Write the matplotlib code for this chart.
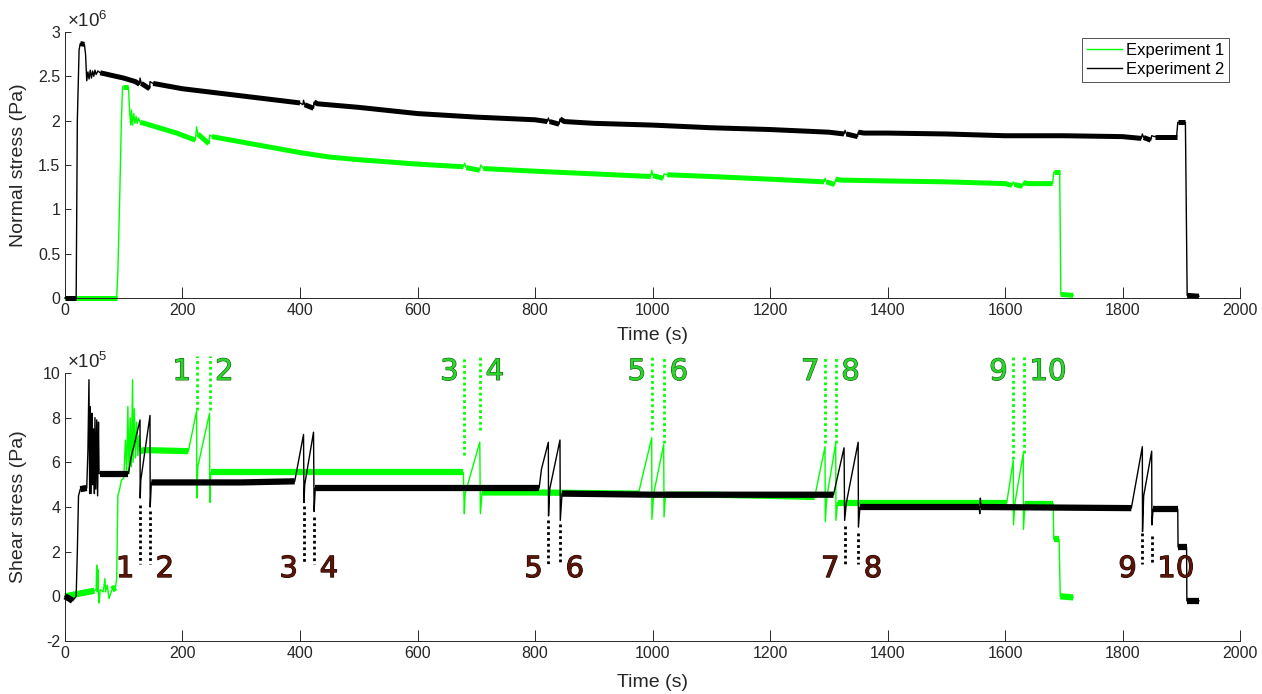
import matplotlib
matplotlib.use('Agg')
import matplotlib.pyplot as plt
import matplotlib.patheffects as pe
import numpy as np

plt.rcParams['font.family'] = 'Liberation Sans'
plt.rcParams['mathtext.fontset'] = 'custom'
plt.rcParams['mathtext.rm'] = 'Liberation Sans'
plt.rcParams['mathtext.default'] = 'regular'

# normal stress, units of 1e6 Pa
t_norm1 = [0, 88, 90, 93, 96, 98, 108, 110, 112, 113, 115, 117, 119, 121, 123, 125, 128, 135, 160, 190,
           222, 224, 226, 245, 246.5, 250, 300, 350, 400, 450, 500, 600, 678, 680, 683, 706, 707.5, 712,
           800, 900, 997, 998.6, 1001, 1018, 1019.6, 1025, 1100, 1200, 1292, 1293.6, 1296, 1310, 1311.8,
           1320, 1400, 1500, 1600, 1612, 1614, 1616, 1630, 1631, 1640, 1681, 1683, 1693, 1695, 1716]
norm1 = [0, 0, 0.3, 1.1, 2.0, 2.38, 2.38, 2.1, 1.95, 2.12, 1.95, 2.08, 1.97, 2.05, 1.97, 2.03, 1.98, 1.97, 1.92, 1.86,
         1.78, 1.93, 1.85, 1.74, 1.84, 1.82, 1.76, 1.70, 1.64, 1.59, 1.56, 1.51, 1.48, 1.52, 1.47, 1.44, 1.50, 1.46,
         1.43, 1.40, 1.37, 1.44, 1.38, 1.35, 1.40, 1.39, 1.37, 1.34, 1.31, 1.35, 1.31, 1.28, 1.34,
         1.33, 1.32, 1.31, 1.29, 1.27, 1.31, 1.28, 1.26, 1.30, 1.29, 1.29, 1.42, 1.42, 0.04, 0.03]

t_norm2 = [0, 19, 21, 24, 26, 33, 35, 37, 39, 41, 43, 45, 47, 49, 51, 53, 56, 60, 80, 100, 120, 127, 127.7, 130,
           144, 144.7, 150, 200, 250, 300, 350, 400, 405, 406, 408, 423, 424, 430, 500, 600, 700, 800, 821,
           822.7, 825, 841, 842.5, 850, 900, 1000, 1100, 1200, 1300, 1326, 1327.7, 1330, 1349, 1350, 1360,
           1400, 1500, 1600, 1700, 1800, 1832, 1833.7, 1836, 1848, 1849.6, 1855, 1892, 1894, 1907, 1910, 1930]
norm2 = [0, 0, 2.0, 2.8, 2.87, 2.86, 2.75, 2.45, 2.55, 2.47, 2.57, 2.48, 2.56, 2.50, 2.57, 2.52, 2.56, 2.54, 2.51,
         2.48, 2.44, 2.41, 2.48, 2.42, 2.36, 2.44, 2.42, 2.36, 2.32, 2.28, 2.24, 2.20, 2.18, 2.23, 2.18, 2.14,
         2.21, 2.19, 2.15, 2.08, 2.04, 2.01, 1.99, 2.03, 1.99, 1.96, 2.02, 1.99, 1.97, 1.95, 1.92, 1.90, 1.87,
         1.85, 1.89, 1.85, 1.82, 1.87, 1.86, 1.86, 1.85, 1.83, 1.83, 1.82, 1.80, 1.85, 1.81, 1.78, 1.83, 1.82,
         1.82, 1.98, 1.98, 0.03, 0.02]

# shear stress, units of 1e5 Pa
t_shear1 = [0, 20, 30, 40, 50, 53, 54, 55, 56, 57, 58, 60, 65, 68, 69, 72, 75, 80, 86, 88, 90, 93, 96, 100, 103,
            105, 107, 109, 111, 113, 115, 116, 118, 120, 122, 124, 126, 128, 135, 210, 224, 224.5, 226, 246,
            246.5, 248, 400, 500, 678, 679.7, 681, 706, 707, 710, 800, 976, 998.6, 999, 1002, 1019, 1019.6,
            1022, 1100, 1200, 1276, 1293.6, 1294, 1297, 1311.8, 1312.2, 1315, 1400, 1500, 1603, 1614, 1614.4,
            1617, 1631, 1631.4, 1634, 1682, 1683, 1692, 1694, 1716]
shear1 = [0, 0.1, 0.15, 0.2, 0.25, 0.3, 1.4, 0.2, 1.2, 0.1, -0.3, 0.3, 0.2, 0.8, 0.2, 0.5, -0.1, 0.3, 0.4, 0.8,
          4.5, 4.8, 5.2, 5.3, 7.0, 5.4, 8.5, 5.5, 8.0, 5.8, 9.7, 6.0, 8.4, 6.2, 7.8, 6.3, 7.2, 6.5, 6.55, 6.5,
          8.3, 4.4, 5.8, 8.2, 4.2, 5.55, 5.55, 5.55, 5.55, 3.7, 4.6, 6.9, 3.7, 4.65, 4.65, 4.6, 7.1, 3.45, 4.6,
          6.8, 3.55, 4.55, 4.55, 4.5, 4.45, 6.7, 3.35, 4.5, 6.85, 3.4, 4.2, 4.2, 4.2, 4.2, 6.1, 3.2, 4.2, 6.4,
          3.0, 4.15, 4.15, 2.55, 2.55, 0.0, -0.05]

t_shear2 = [0, 7, 13, 19, 21, 23, 26, 37, 39, 40.8, 42, 43, 44.5, 46, 47, 48.5, 50, 51, 52.5, 54, 55.5,
            57, 58, 60, 108, 113, 118, 127.7, 128, 129, 144.7, 145, 147, 200, 300, 391, 406, 406.8, 408, 423,
            424, 426, 600, 807, 811, 822.7, 823, 825, 842.5, 843, 846, 1000, 1200, 1308, 1326, 1327, 1330,
            1350, 1350.5, 1353, 1556, 1557, 1558, 1559, 1815, 1833.7, 1834, 1836, 1849.6, 1850, 1852, 1894,
            1894.5, 1909, 1909.5, 1930]
shear2 = [0, -0.1, -0.2, 0, 2.0, 4.5, 4.8, 4.85, 6.5, 9.7, 4.6, 8.5, 4.6, 8.2, 5.0, 7.5, 4.6, 8.0,
          4.8, 7.9, 4.5, 7.8, 5.5, 5.5, 5.5, 6.3, 6.8, 7.9, 4.4, 5.2, 8.1, 4.0, 5.1, 5.1, 5.1, 5.15, 7.25, 4.2,
          5.0, 7.35, 3.8, 4.85, 4.85, 4.85, 5.7, 6.9, 3.6, 4.8, 7.0, 3.4, 4.6, 4.55, 4.55, 4.55, 6.65, 3.4,
          4.2, 6.9, 3.1, 4.0, 4.0, 3.7, 4.4, 4.0, 3.95, 6.7, 2.9, 4.5, 6.5, 3.2, 3.9, 3.9, 2.2, 2.2, -0.2, -0.2]

# slip events
event_labels = ['1', '2', '3', '4', '5', '6', '7', '8', '9', '10']
events1 = [224, 246, 679.7, 706.5, 998.6, 1019.6, 1293.6, 1311.8, 1614, 1632]
events1_low = [8.36, 8.36, 6.35, 7.45, 7.45, 6.87, 6.87, 6.87, 6.13, 6.4]
events2 = [127.7, 144.7, 406, 424, 822.7, 842.5, 1327.7, 1350, 1833.7, 1849.6]
events2_high = [4.11, 3.82, 4.04, 3.56, 3.44, 3.22, 3.14, 2.85, 2.85, 2.7]

green = '#00ff00'
dark = '#262626'


def draw(ax, t, v, color, band_lw, label=None, z=2):
    t = np.asarray(t, dtype=float)
    v = np.asarray(v, dtype=float)
    line, = ax.plot(t, v, color=color, lw=1.0, label=label, zorder=z, clip_on=False)
    dt = np.diff(t)
    flat = (dt >= 6) & (np.abs(np.diff(v)) / dt < 0.02)
    i = 0
    while i < len(flat):
        if flat[i]:
            j = i
            while j < len(flat) and flat[j]:
                j += 1
            ax.plot(t[i:j + 1], v[i:j + 1], color=color, lw=band_lw, solid_capstyle='butt',
                    zorder=z, clip_on=False)
            i = j
        else:
            i += 1
    return line


def style(ax, ylim, yticks, ylabel, power, xlab_y):
    ax.set_xlim(0, 2000)
    ax.set_ylim(*ylim)
    ax.set_xticks(range(0, 2001, 200))
    ax.set_yticks(yticks)
    ax.set_yticklabels(['%g' % y for y in yticks])
    for s in ['top', 'right']:
        ax.spines[s].set_visible(False)
    for s in ['left', 'bottom']:
        ax.spines[s].set_color(dark)
        ax.spines[s].set_linewidth(0.7)
    ax.tick_params(axis='both', direction='in', colors=dark, labelsize=11.5, width=0.7)
    ax.tick_params(axis='x', length=8)
    ax.tick_params(axis='y', length=4)
    ax.set_xlabel('Time (s)', fontsize=14, color=dark)
    ax.set_ylabel(ylabel, fontsize=14, color=dark)
    ax.xaxis.set_label_coords(0.5, xlab_y)
    ax.yaxis.set_label_coords(-0.032, 0.5)
    ax.text(0.002, 1.005, '\u00d710$^{%d}$' % power, transform=ax.transAxes, fontsize=13.5,
            color=dark, ha='left', va='bottom')


fig = plt.figure(figsize=(12.62, 6.94), dpi=100)
ax1 = fig.add_axes([0.0515, 0.5706, 0.9311, 0.3833])
ax2 = fig.add_axes([0.0515, 0.0764, 0.9311, 0.3861])

l1 = draw(ax1, t_norm1, norm1, green, 3.6, 'Experiment 1')
l2 = draw(ax1, t_norm2, norm2, 'black', 3.6, 'Experiment 2', z=3)
style(ax1, (0, 3), [0, 0.5, 1, 1.5, 2, 2.5, 3], 'Normal stress (Pa)', 6, -0.11)
leg = ax1.legend(handles=[l1, l2], loc='upper right', bbox_to_anchor=(0.991, 0.978), borderaxespad=0,
                 fancybox=False, fontsize=12, handlelength=2.1, labelspacing=0.25, borderpad=0.3,
                 handletextpad=0.25)
leg.get_frame().set_edgecolor(dark)
leg.get_frame().set_linewidth(0.7)

draw(ax2, t_shear1, shear1, green, 4.5)
draw(ax2, t_shear2, shear2, 'black', 4.5, z=3)
style(ax2, (-2, 10), [-2, 0, 2, 4, 6, 8, 10], 'Shear stress (Pa)', 5, -0.125)

green_fx = [pe.withStroke(linewidth=0.8, foreground='#145214')]
brown_fx = [pe.withStroke(linewidth=0.8, foreground='#1a0600')]
for k, lab in enumerate(event_labels):
    side = -4 if k % 2 == 0 else 4
    ha = 'right' if k % 2 == 0 else 'left'
    x1 = events1[k]
    ax2.plot([x1, x1], [events1_low[k], 10.78], color=green, lw=2.0, ls=(0, (1, 1.1)),
             clip_on=False, zorder=4)
    ax2.annotate(lab, xy=(x1, 10.05), xytext=(side, 0), textcoords='offset points', ha=ha, va='center',
                 fontsize=21, family='DejaVu Sans', color='#2ad62a', path_effects=green_fx,
                 annotation_clip=False, zorder=5)
    x2 = events2[k]
    ax2.plot([x2, x2], [events2_high[k], 1.43], color='black', lw=2.0, ls=(0, (1, 1.1)), zorder=4)
    ax2.annotate(lab, xy=(x2, 1.22), xytext=(side, 0), textcoords='offset points', ha=ha, va='center',
                 fontsize=21, family='DejaVu Sans', color='#5a1508', path_effects=brown_fx,
                 annotation_clip=False, zorder=5)

fig.savefig('out.png', dpi=100)
